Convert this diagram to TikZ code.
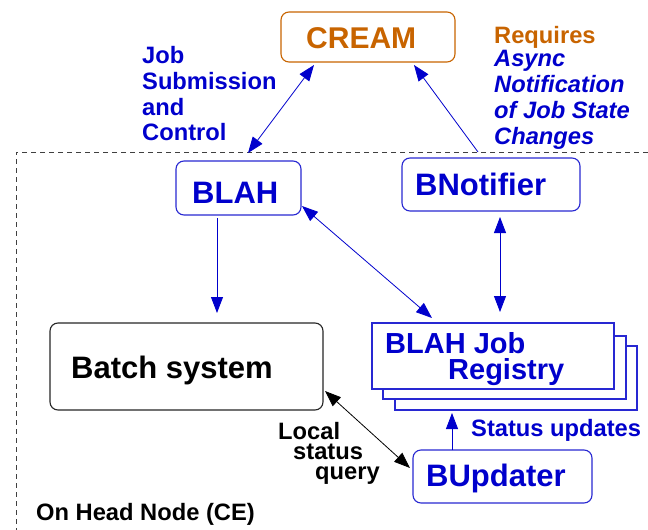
\documentclass[tikz,border=0pt]{standalone}
\usepackage{fontspec}
\setmainfont{Liberation Sans}
\usetikzlibrary{arrows.meta}
\definecolor{tblue}{RGB}{0,0,204}
\definecolor{bblue}{RGB}{40,40,210}
\definecolor{torange}{RGB}{200,100,0}
\begin{document}
\begin{tikzpicture}[x=1pt,y=-1pt,
  rbox/.style={draw=bblue, line width=1.1pt, rounded corners=8pt, fill=white, inner sep=0pt},
  sbox/.style={draw=bblue, line width=1.1pt, fill=white, inner sep=0pt},
  big/.style={font=\fontsize{31}{33}\selectfont\bfseries, text=tblue, inner sep=0pt, anchor=base west},
  small/.style={font=\fontsize{23.7}{25.7}\selectfont\bfseries, inner sep=0pt, anchor=base west, align=left},
  arr/.style={draw=tblue, line width=0.8pt, -{Triangle[length=16pt,width=12pt]}},
  darr/.style={draw=tblue, line width=0.8pt, {Triangle[length=16pt,width=12pt]}-{Triangle[length=16pt,width=12pt]}},
  karr/.style={draw=black, line width=0.8pt, {Triangle[length=16pt,width=12pt]}-{Triangle[length=16pt,width=12pt]}}]
\useasboundingbox (0,0) rectangle (648,530);
% head node boundary
\draw[black!75, line width=0.8pt, dash pattern=on 5pt off 4pt] (648,152) -- (16,152) -- (16,530);
% boxes
\node[rbox, draw=torange, minimum width=174pt, minimum height=50pt] (cream) at (368,37) {};
\node[font=\fontsize{30}{32}\selectfont\bfseries, text=torange, inner sep=0pt, anchor=base west] (creamT) at (306,48) {CREAM};
\node[rbox, minimum width=125pt, minimum height=54pt] (blah) at (238.5,188) {};
\node[big] (blahT) at (192,203) {BLAH};
\node[rbox, minimum width=178pt, minimum height=53pt] (bnot) at (491,184.5) {};
\node[big] (bnotT) at (415,195) {BNotifier};
\node[rbox, draw=black!85, minimum width=273pt, minimum height=87pt] (batch) at (186.5,366.5) {};
\node[big, text=black] (batchT) at (71,378) {Batch system};
\node[sbox, minimum width=242pt, minimum height=64pt] (reg3) at (516,378) {};
\node[sbox, minimum width=243pt, minimum height=63pt] (reg2) at (504.5,367.5) {};
\node[sbox, minimum width=242pt, minimum height=66pt] (reg) at (493,356) {};
\node[big, font=\fontsize{29}{31}\selectfont\bfseries] (regT1) at (385,353) {BLAH Job};
\node[big, font=\fontsize{29}{31}\selectfont\bfseries] (regT2) at (448,379) {Registry};
\node[rbox, minimum width=179pt, minimum height=53pt] (bupd) at (502.5,476.5) {};
\node[big] (bupdT) at (426,486) {BUpdater};
% labels
\node[small, text=tblue] (jobL) at (142,140.7) {Job\\Submission\\and\\Control};
\node[small, text=torange] (reqL) at (494,43.3) {Requires};
\node[small, text=tblue, font=\fontsize{23.7}{25.7}\selectfont\bfseries\itshape] (asyncL) at (494,144) {Async\\Notification\\of Job State\\Changes};
\node[small, text=tblue] (statL) at (471,436) {Status updates};
\node[small] (locL1) at (278,439) {Local};
\node[small] (locL2) at (293,459.5) {status};
\node[small] (locL3) at (315,479) {query};
\node[small] (headL) at (36,520) {On Head Node (CE)};
% connectors
\coordinate (c1) at (314,65);
\coordinate (b1) at (248,153);
\draw[darr] (b1) -- (c1);
\coordinate (c2) at (414,65);
\coordinate (n2) at (478,152);
\draw[arr] (n2) -- (c2);
\coordinate (b3) at (217,218);
\coordinate (t3) at (217,313);
\draw[arr] (b3) -- (t3);
\coordinate (b4) at (302,206);
\coordinate (r4) at (432,318);
\draw[darr] (b4) -- (r4);
\coordinate (n5) at (500,217);
\coordinate (r5) at (500,312);
\draw[darr] (n5) -- (r5);
\coordinate (k1) at (325,391);
\coordinate (k2) at (410,468);
\draw[karr] (k1) -- (k2);
\coordinate (u1) at (452,450);
\coordinate (u2) at (452,413);
\draw[arr] (u1) -- (u2);
\end{tikzpicture}
\end{document}
